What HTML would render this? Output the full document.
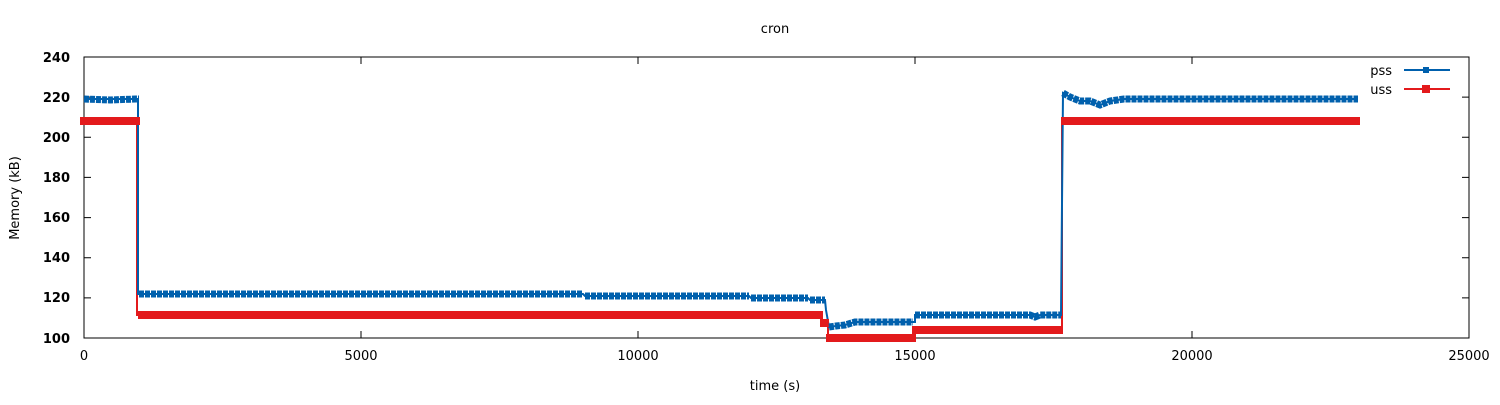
<!DOCTYPE html><html><head><style>body{margin:0;background:#fff}svg text{font-family:"DejaVu Sans","Liberation Sans",sans-serif;font-size:13px}</style></head><body>
<svg width="1500" height="400" xmlns="http://www.w3.org/2000/svg">
<rect width="1500" height="400" fill="#fff"/>
<text x="775" y="33" text-anchor="middle" font-size="13">cron</text>
<g stroke="#000" stroke-width="1">
<rect x="84" y="57" width="1385" height="281" fill="none"/>
<path d="M84 97.1h7M84 137.3h7M84 177.4h7M84 217.6h7M84 257.7h7M84 297.9h7M1469 97.1h-7M1469 137.3h-7M1469 177.4h-7M1469 217.6h-7M1469 257.7h-7M1469 297.9h-7M361 338v-7M638 338v-7M915 338v-7M1192 338v-7M361 57v7M638 57v7M915 57v7M1192 57v7"/>
</g>
<g font-weight="bold" text-anchor="end">
<text x="70" y="62">240</text><text x="70" y="102">220</text><text x="70" y="142">200</text><text x="70" y="182">180</text><text x="70" y="222">160</text><text x="70" y="262">140</text><text x="70" y="302">120</text><text x="70" y="343">100</text>
</g>
<g text-anchor="middle">
<text x="84" y="360">0</text><text x="361" y="360">5000</text><text x="638" y="360">10000</text><text x="915" y="360">15000</text><text x="1192" y="360">20000</text><text x="1469" y="360">25000</text>
<text x="775" y="390">time (s)</text>
<text transform="translate(19,198) rotate(-90)">Memory (kB)</text>
</g>
<polyline fill="none" stroke="#e31a1c" stroke-width="2" points="80,121 137,121 137,315 822,315 822,323 828,323 828,338 915,338 915,330 1062,330 1062,121 1360,121"/>
<polyline fill="none" stroke="#0060ad" stroke-width="2" points="84,99 136,99 138,99 138,294 583,294 585,296 749,296 751,298 808,298 810,300 825,300 826,310 829,327 836,326 845,325 855,322 915,322 915,315 1030,315 1035,317 1040,315 1061,315 1063,93 1070,97 1080,101 1090,101 1100,105 1110,101 1124,99 1358,99"/>
<g stroke="#e31a1c" stroke-width="8" fill="none">
<path d="M80 121H140M138 315H823M820 323H829M826 338H916M912 330H1063M1061 121H1360"/>
</g>
<g stroke="#0060ad" stroke-width="7" stroke-dasharray="5 1" fill="none">
<polyline points="84,99 110,100 136,99 139,99"/>
<polyline points="139,294 583,294"/>
<polyline points="585,296 749,296"/>
<polyline points="751,298 808,298"/>
<polyline points="810,300 825,300"/>
<polyline points="829,327 836,326 845,325 855,322 913,322"/>
<polyline points="915,315 1030,315 1035,317 1040,315 1061,315"/>
<polyline points="1063,93 1070,97 1080,101 1090,101 1100,105 1110,101 1124,99 1358,99"/>
</g>
<text x="1392" y="75" text-anchor="end">pss</text>
<text x="1392" y="94" text-anchor="end">uss</text>
<line x1="1404" y1="70" x2="1450" y2="70" stroke="#0060ad" stroke-width="2"/>
<rect x="1423" y="67" width="6" height="6" fill="#0060ad"/>
<line x1="1404" y1="89" x2="1450" y2="89" stroke="#e31a1c" stroke-width="2"/>
<rect x="1422" y="85" width="8" height="8" fill="#e31a1c"/>
</svg></body></html>
